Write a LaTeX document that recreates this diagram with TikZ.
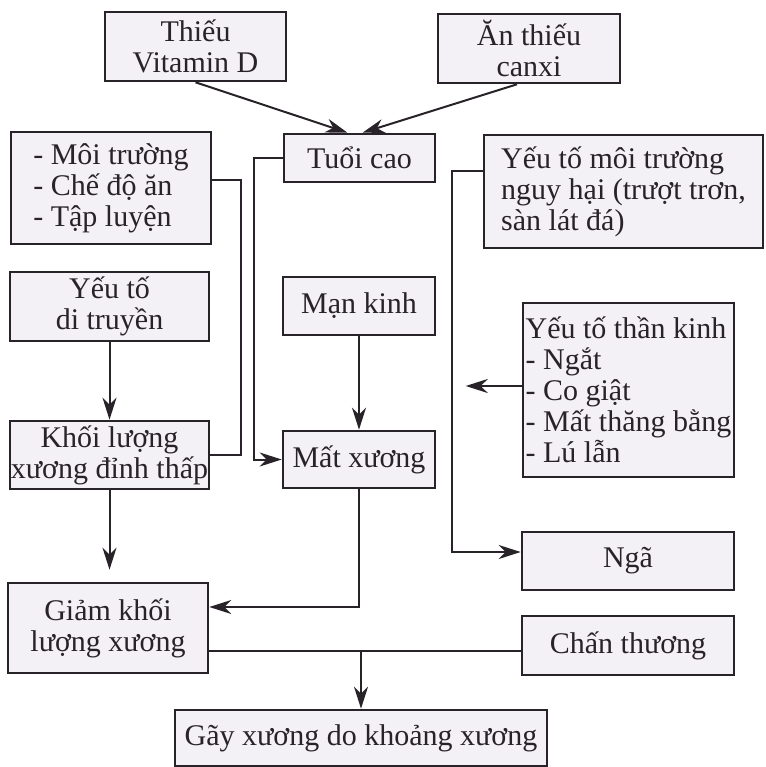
\documentclass[tikz,border=0pt]{standalone}
\usepackage{fontspec}
\setmainfont{Liberation Serif}
\usetikzlibrary{arrows.meta}
\definecolor{boxfill}{RGB}{243,240,246}
\definecolor{ink}{RGB}{40,35,40}

\begin{document}
\begin{tikzpicture}[x=1pt,y=-1pt,
    box/.style={draw=ink,line width=2.6pt,fill=boxfill,text=ink,inner sep=0pt,align=center,
        font=\fontsize{30}{31}\selectfont},
    link/.style={draw=ink,line width=2pt},
    arr/.style={link,-{Stealth[length=22pt,width=14pt,inset=7pt]}}]
    \useasboundingbox (0,0) rectangle (765,767);
    % boxes, placed at pixel centres
    \node[box,minimum width=181,minimum height=69] (vitd) at (195.5,46.5) {Thiếu\\Vitamin D};
    \node[box,minimum width=182,minimum height=69] (canxi) at (529,48.5) {Ăn thiếu\\canxi};
    \node[box,minimum width=151,minimum height=48] (tuoi) at (359.5,158) {Tuổi cao};
    \node[box,align=left,minimum width=200,minimum height=112] (moitruong) at (111,188)
        {- Môi trường\\- Chế độ ăn\\- Tập luyện};
    \node[box,align=left,minimum width=279,minimum height=113] (nguyhai) at (623.5,191.5)
        {Yếu tố môi trường\\nguy hại (trượt trơn,\\sàn lát đá)};
    \node[box,minimum width=199,minimum height=69] (ditruyen) at (109.5,306.5) {Yếu tố\\di truyền};
    \node[box,minimum width=152,minimum height=58] (mankinh) at (359,306) {Mạn kinh};
    \node[box,minimum width=199,minimum height=68] (khoiluong) at (109.5,455) {Khối lượng\\xương đỉnh thấp};
    \node[box,minimum width=152,minimum height=57] (matxuong) at (359,459.5) {Mất xương};
    \node[box,align=left,minimum width=211,minimum height=174] (thankinh) at (628.5,390)
        {Yếu tố thần kinh\\- Ngắt\\- Co giật\\- Mất thăng bằng\\- Lú lẫn};
    \node[box,minimum width=212,minimum height=58] (nga) at (628,561) {Ngã};
    \node[box,minimum width=212,minimum height=59] (chanthuong) at (628,645.5) {Chấn thương};
    \node[box,minimum width=200,minimum height=90] (giam) at (108,628) {Giảm khối\\lượng xương};
    \node[box,minimum width=372,minimum height=56] (gay) at (361,738) {Gãy xương do khoảng xương};

    \draw[arr] (vitd.south) -- ([xshift=-12]tuoi.north);
    \draw[arr] ([xshift=-12]canxi.south) -- ([xshift=3]tuoi.north);
    \draw[link] ([yshift=8]moitruong.east) -- ++(29,0) |- (khoiluong.east);
    \draw[arr] (tuoi.west) -- ++(-29,0) |- (matxuong.west);
    \draw[arr] ([yshift=20]nguyhai.west) -- ++(-31,0) |- ([yshift=9]nga.west);
    \draw[arr] ([yshift=4]thankinh.west) -- ++(-56,0);
    \draw[arr] (ditruyen) -- (khoiluong);
    \draw[arr,shorten >=12pt] (khoiluong.south) -- (khoiluong.south |- giam.north);
    \draw[arr] (mankinh) -- (matxuong);
    \draw[arr] (matxuong.south) |- ([yshift=21]giam.east);
    \draw[link] ([yshift=-23]giam.east) coordinate (jn) -- (jn -| chanthuong.west);
    \draw[arr] (jn -| gay.north) -- (gay.north);
\end{tikzpicture}
\end{document}
